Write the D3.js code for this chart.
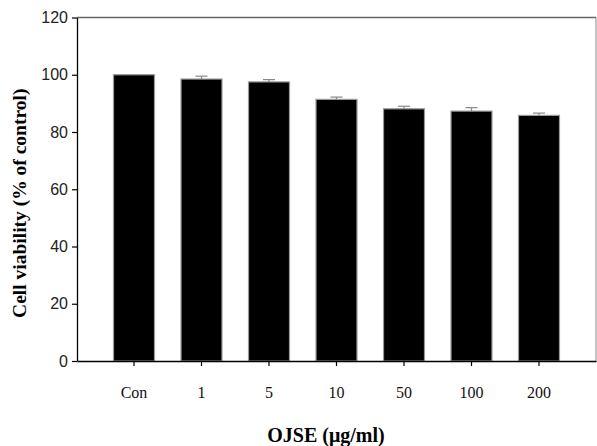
<!DOCTYPE html>
<html><head><meta charset="utf-8">
<script src="https://cdn.jsdelivr.net/npm/d3@7"></script>
<style>body{margin:0;background:#fff;} svg{display:block;}</style>
</head><body>
<svg id="c" width="597" height="446"></svg>
<script>
const categories = ["Con", "1", "5", "10", "50", "100", "200"];
const values = [100, 98.5, 97.5, 91.4, 88.1, 87.3, 85.8];
const errors = [0, 1.0, 0.8, 0.8, 0.9, 1.2, 0.8];
const yTicks = [0, 20, 40, 60, 80, 100, 120];

const svg = d3.select("#c");
const L = 77, R = 596, T = 17.5, B = 361;
const x = d3.scaleBand().domain(categories).range([L, R]).paddingInner(0.393).paddingOuter(0.541);
const y = d3.scaleLinear().domain([0, 120]).range([B, T]);

// frame top & right
svg.append("line").attr("x1", L).attr("x2", R).attr("y1", T).attr("y2", T).attr("stroke", "#666").attr("stroke-width", 1.3);
svg.append("line").attr("x1", R).attr("x2", R).attr("y1", T).attr("y2", B).attr("stroke", "#888").attr("stroke-width", 1);

// bars
svg.selectAll("rect.bar").data(categories).enter().append("rect")
  .attr("x", d => x(d)).attr("width", x.bandwidth())
  .attr("y", (d, i) => y(values[i])).attr("height", (d, i) => B - y(values[i]))
  .attr("fill", "#000").attr("stroke", "#999").attr("stroke-width", 1.2);

// error bars
const eb = svg.selectAll("g.err").data(categories).enter().append("g").filter((d, i) => errors[i] > 0);
const errTop = d => y(values[categories.indexOf(d)] + errors[categories.indexOf(d)]);
const cx = d => x(d) + x.bandwidth() / 2;
eb.append("line")
  .attr("x1", cx).attr("x2", cx)
  .attr("y1", d => y(values[categories.indexOf(d)])).attr("y2", errTop)
  .attr("stroke", "#888").attr("stroke-width", 1.2);
eb.append("line")
  .attr("x1", d => cx(d) - 6).attr("x2", d => cx(d) + 6)
  .attr("y1", errTop).attr("y2", errTop)
  .attr("stroke", "#888").attr("stroke-width", 1.2);

// y axis
const ya = svg.append("g").attr("transform", `translate(${L},0)`)
  .call(d3.axisLeft(y).tickValues(yTicks).tickSize(5).tickPadding(4).tickSizeOuter(0));
ya.select(".domain").attr("stroke", "#000").attr("stroke-width", 1.3);
ya.selectAll(".tick line").attr("stroke", "#000").attr("stroke-width", 1.2);
ya.selectAll("text").attr("font-family", "Liberation Sans, Arial, sans-serif").attr("font-size", 16).attr("fill", "#222");

// x axis
const xa = svg.append("g").attr("transform", `translate(0,${B})`)
  .call(d3.axisBottom(x).tickSize(5).tickPadding(21).tickSizeOuter(0));
xa.select(".domain").attr("stroke", "#000").attr("stroke-width", 1.3);
xa.selectAll(".tick line").attr("stroke", "#000").attr("stroke-width", 1.2);
xa.selectAll("text").attr("font-family", "Liberation Serif, Times New Roman, serif").attr("font-size", 16).attr("fill", "#111");

// titles
svg.append("text").attr("x", 326).attr("y", 442).attr("text-anchor", "middle")
  .attr("font-family", "Liberation Serif, Times New Roman, serif").attr("font-weight", "bold").attr("font-size", 20)
  .text("OJSE (μg/ml)");
svg.append("text").attr("transform", `translate(26,${(T + B) / 2 + 14}) rotate(-90)`).attr("text-anchor", "middle")
  .attr("font-family", "Liberation Serif, Times New Roman, serif").attr("font-weight", "bold").attr("font-size", 19.5)
  .text("Cell viability (% of control)");
</script>
</body></html>
